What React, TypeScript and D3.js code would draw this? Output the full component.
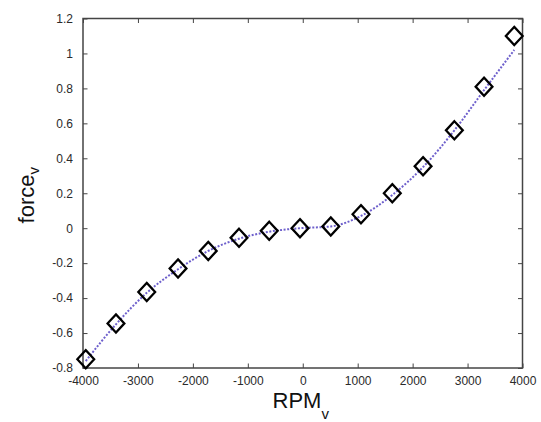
import React, { useEffect, useRef } from "react";
import * as d3 from "d3";

// measured points (diamonds)
const rpm = [-3950, -3400, -2840, -2270, -1720, -1160, -610, -50, 510, 1060, 1630, 2190, 2760, 3300, 3850];
const force = [-0.75, -0.545, -0.365, -0.23, -0.13, -0.055, -0.015, 0, 0.01, 0.08, 0.2, 0.355, 0.56, 0.81, 1.1];

// fitted curve (dotted)
const fitRpm = [-3950, -3400, -2840, -2270, -1720, -1160, -610, -50, 510, 1060, 1630, 2190, 2760, 3300, 3850];
const fitForce = [-0.76, -0.55, -0.37, -0.235, -0.13, -0.06, -0.02, 0, 0.01, 0.07, 0.19, 0.35, 0.56, 0.79, 1.02];

const xTicks = [-4000, -3000, -2000, -1000, 0, 1000, 2000, 3000, 4000];
const yTicks = [-0.8, -0.6, -0.4, -0.2, 0, 0.2, 0.4, 0.6, 0.8, 1, 1.2];

const App = () => {
    const svgRef = useRef(null);
    const width = 541;
    const height = 422;
    const margin = { top: 18.5, right: 18.5, bottom: 54, left: 83 };

    useEffect(() => {
        const innerW = width - margin.left - margin.right;
        const innerH = height - margin.top - margin.bottom;

        const x = d3.scaleLinear().domain([-4000, 4000]).range([0, innerW]);
        const y = d3.scaleLinear().domain([-0.8, 1.2]).range([innerH, 0]);

        const svgEl = d3.select(svgRef.current);
        svgEl.selectAll("*").remove();

        svgEl.append("rect").attr("width", width).attr("height", height).attr("fill", "#fff");

        const svg = svgEl
            .append("g")
            .attr("transform", `translate(${margin.left},${margin.top})`);

        const axisColor = "#444";
        const tickLen = 4.5;

        // bottom axis with labels (plain hyphen minus, like matlab)
        const bottom = svg
            .append("g")
            .attr("transform", `translate(0,${innerH})`)
            .call(d3.axisBottom(x).tickValues(xTicks).tickSizeInner(-tickLen).tickSizeOuter(0).tickPadding(10).tickFormat((d) => String(d)));
        // top axis (ticks only)
        const top = svg
            .append("g")
            .call(d3.axisTop(x).tickValues(xTicks).tickSizeInner(-tickLen).tickSizeOuter(0).tickFormat(() => ""));
        // left axis with labels
        const left = svg
            .append("g")
            .call(d3.axisLeft(y).tickValues(yTicks).tickSizeInner(-tickLen).tickSizeOuter(0).tickPadding(10).tickFormat((d) => String(+(+d).toFixed(1))));
        // right axis (ticks only)
        const right = svg
            .append("g")
            .attr("transform", `translate(${innerW},0)`)
            .call(d3.axisRight(y).tickValues(yTicks).tickSizeInner(-tickLen).tickSizeOuter(0).tickFormat(() => ""));

        [bottom, top, left, right].forEach((g) => {
            g.select(".domain").remove();
            g.selectAll("line").attr("stroke", axisColor).attr("stroke-width", 1);
            g.selectAll("text")
                .attr("fill", "#2a2a2a")
                .style("font-family", "Liberation Sans, Arial, sans-serif")
                .style("font-size", "12px");
        });
        bottom.selectAll("text").attr("dy", "0.55em");

        // box
        svg
            .append("rect")
            .attr("width", innerW)
            .attr("height", innerH)
            .attr("fill", "none")
            .attr("stroke", axisColor)
            .attr("stroke-width", 1.5);

        // fitted curve
        const fitData = fitRpm.map((r, i) => [r, fitForce[i]]);
        const line = d3
            .line()
            .x((d) => x(d[0]))
            .y((d) => y(d[1]))
            .curve(d3.curveMonotoneX);
        svg
            .append("path")
            .datum(fitData)
            .attr("fill", "none")
            .attr("stroke", "#6e60cc")
            .attr("stroke-width", 2)
            .attr("stroke-dasharray", "2,1.6")
            .attr("d", line);

        // diamond markers
        const diamond = d3.symbol().type(d3.symbolDiamond2).size(180);
        svg
            .selectAll(".pt")
            .data(rpm.map((r, i) => [r, force[i]]))
            .enter()
            .append("path")
            .attr("class", "pt")
            .attr("transform", (d) => `translate(${x(d[0])},${y(d[1])}) scale(1,1.08)`)
            .attr("d", diamond)
            .attr("fill", "none")
            .attr("stroke", "#000")
            .attr("stroke-width", 2.2);

        // x label
        const xl = svgEl
            .append("text")
            .attr("x", margin.left + innerW / 2 - 2)
            .attr("y", 408)
            .attr("text-anchor", "middle")
            .style("font-family", "Liberation Sans, Arial, sans-serif")
            .style("font-size", "22px")
            .attr("fill", "#111");
        xl.append("tspan").text("RPM");
        xl.append("tspan").attr("dy", 11).style("font-size", "15px").text("v");

        // y label
        const yl = svgEl
            .append("text")
            .attr("transform", `translate(34,${margin.top + innerH / 2 + 2}) rotate(-90)`)
            .attr("text-anchor", "middle")
            .style("font-family", "Liberation Sans, Arial, sans-serif")
            .style("font-size", "22px")
            .attr("fill", "#111");
        yl.append("tspan").text("force");
        yl.append("tspan").attr("dy", 5).style("font-size", "15px").text("v");
    }, []);

    return (
        <svg
            ref={svgRef}
            width={width}
            height={height}
            style={{ position: "absolute", left: 0, top: 0 }}
        />
    );
};

export default App;
